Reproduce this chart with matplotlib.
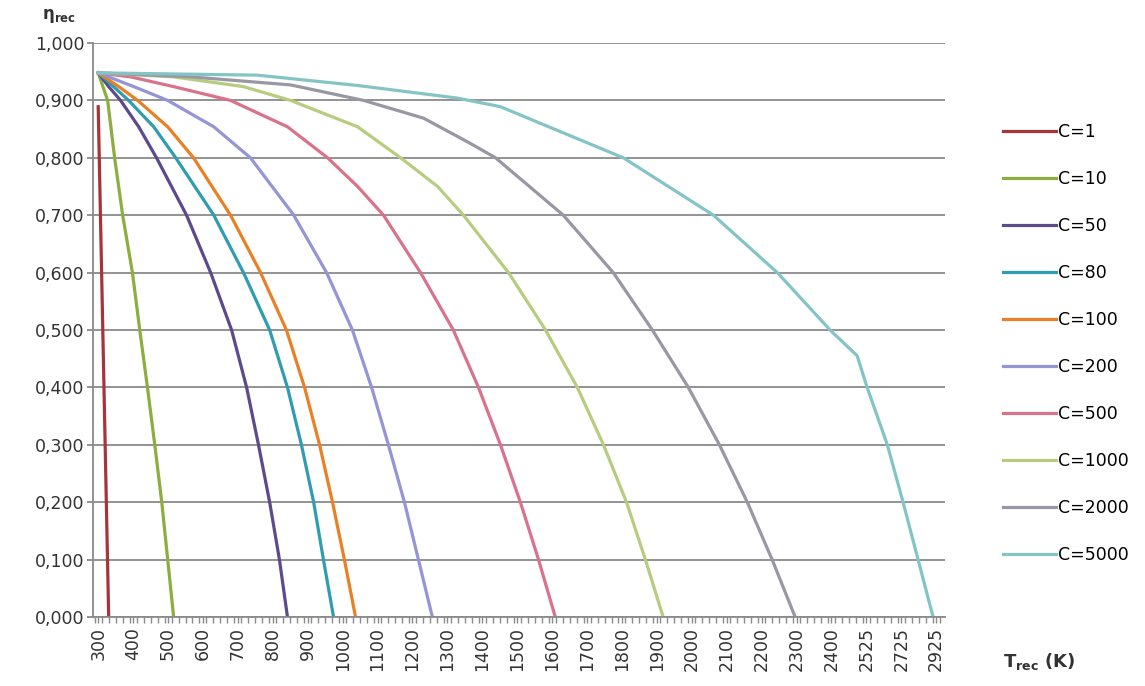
import matplotlib.pyplot as plt
import numpy as np

# category labels of the x axis (K)
x_labels = [300, 400, 500, 600, 700, 800, 900, 1000, 1100, 1200, 1300, 1400,
            1500, 1600, 1700, 1800, 1900, 2000, 2100, 2200, 2300, 2400,
            2525, 2725, 2925]

# receiver efficiency vs receiver temperature
t_c1 = [300, 330]
eta_c1 = [0.889, 0.0]

t_c10 = [300, 327, 347, 370, 398, 419, 441, 462, 482, 499, 516]
eta_c10 = [0.948, 0.9, 0.8, 0.7, 0.6, 0.5, 0.4, 0.3, 0.2, 0.1, 0.0]

t_c50 = [300, 330, 364, 416, 467, 553, 622, 682, 725, 759, 791, 819, 842]
eta_c50 = [0.948, 0.924, 0.9, 0.854, 0.8, 0.7, 0.6, 0.5, 0.4, 0.3, 0.2, 0.1, 0.0]

t_c80 = [300, 344, 387, 459, 522, 631, 716, 791, 842, 882, 917, 945, 974]
eta_c80 = [0.948, 0.924, 0.9, 0.854, 0.8, 0.7, 0.6, 0.5, 0.4, 0.3, 0.2, 0.1, 0.0]

t_c100 = [300, 359, 413, 499, 573, 679, 765, 839, 891, 934, 971, 1005, 1037]
eta_c100 = [0.948, 0.924, 0.9, 0.854, 0.8, 0.7, 0.6, 0.5, 0.4, 0.3, 0.2, 0.1, 0.0]

t_c200 = [300, 402, 499, 631, 736, 860, 954, 1028, 1083, 1131, 1177, 1217, 1257]
eta_c200 = [0.948, 0.924, 0.9, 0.854, 0.8, 0.7, 0.6, 0.5, 0.4, 0.3, 0.2, 0.1, 0.0]

t_c500 = [300, 393, 516, 679, 842, 957, 1043, 1117, 1223, 1317, 1389, 1452,
          1509, 1561, 1609]
eta_c500 = [0.948, 0.941, 0.924, 0.9, 0.854, 0.8, 0.75, 0.7, 0.6, 0.5, 0.4,
            0.3, 0.2, 0.1, 0.0]

t_c1000 = [300, 516, 716, 851, 1043, 1166, 1272, 1346, 1475, 1581, 1672, 1747,
           1813, 1867, 1918]
eta_c1000 = [0.948, 0.941, 0.924, 0.9, 0.854, 0.8, 0.75, 0.7, 0.6, 0.5, 0.4,
             0.3, 0.2, 0.1, 0.0]

t_c2000 = [300, 565, 851, 1060, 1232, 1366, 1438, 1632, 1775, 1887, 1990, 2079,
           2159, 2230, 2296]
eta_c2000 = [0.948, 0.941, 0.927, 0.9, 0.869, 0.825, 0.8, 0.7, 0.6, 0.5, 0.4,
             0.3, 0.2, 0.1, 0.0]

t_c5000 = [300, 756, 1043, 1329, 1452, 1804, 2062, 2245, 2396, 2492, 2529, 2645,
           2735, 2821, 2907]
eta_c5000 = [0.948, 0.944, 0.926, 0.904, 0.889, 0.8, 0.7, 0.6, 0.5, 0.455, 0.4,
             0.3, 0.2, 0.1, 0.0]

series = [
    ("C=1", t_c1, eta_c1, "#a5343b"),
    ("C=10", t_c10, eta_c10, "#8cae3e"),
    ("C=50", t_c50, eta_c50, "#5b4a8c"),
    ("C=80", t_c80, eta_c80, "#2f9cb0"),
    ("C=100", t_c100, eta_c100, "#ea8025"),
    ("C=200", t_c200, eta_c200, "#9494d6"),
    ("C=500", t_c500, eta_c500, "#d9728c"),
    ("C=1000", t_c1000, eta_c1000, "#b8cc80"),
    ("C=2000", t_c2000, eta_c2000, "#9898a4"),
    ("C=5000", t_c5000, eta_c5000, "#84c4c6"),
]

label_pos = np.arange(len(x_labels))

fig = plt.figure(figsize=(11.45, 6.86), dpi=100)
ax = fig.add_axes([0.0812, 0.1006, 0.7441, 0.8367])

for name, t, eta, col in series:
    # x axis is a category axis, so map temperatures onto label positions
    pos = np.interp(t, x_labels, label_pos)
    ax.plot(pos, eta, color=col, lw=2.3, label=name, solid_joinstyle="round")

ax.set_xlim(-0.15, 24.25)
ax.set_ylim(0, 1.0)

yt = np.arange(0, 1.01, 0.1)
ax.set_yticks(yt)
ax.set_yticklabels([f"{v:.3f}".replace(".", ",") for v in yt], fontsize=12.5,
                   color="#333333")
ax.set_xticks(label_pos)
ax.set_xticklabels([str(v) for v in x_labels], rotation=90, fontsize=12.5,
                   color="#333333")
ax.set_xticks(np.arange(-0.1, 24.25, 0.2), minor=True)

ax.grid(axis="y", color="#8a8a8a", lw=1.3)
ax.set_axisbelow(True)
for s in ["top", "right"]:
    ax.spines[s].set_visible(False)
for s in ["left", "bottom"]:
    ax.spines[s].set_color("#8a8a8a")
    ax.spines[s].set_linewidth(1.3)
ax.tick_params(axis="y", length=4, width=1.3, color="#8a8a8a", pad=2)
ax.tick_params(axis="x", which="both", length=4, width=1, color="#8a8a8a", pad=3)

fig.text(0.037, 0.977, r"$\mathbf{\eta_{rec}}$", fontsize=12, ha="left",
         va="center", color="#333333")
fig.text(0.908, 0.036, r"$\mathbf{T_{rec}}$ (K)", fontsize=13, ha="center",
         va="center", color="#333333", fontweight="bold")

ax.legend(loc="center left", bbox_to_anchor=(0.862, 0.499),
          bbox_transform=fig.transFigure, frameon=False, fontsize=12.5,
          handlelength=3.1, handletextpad=0.1, labelspacing=1.67)

fig.savefig("out.png", dpi=100)
